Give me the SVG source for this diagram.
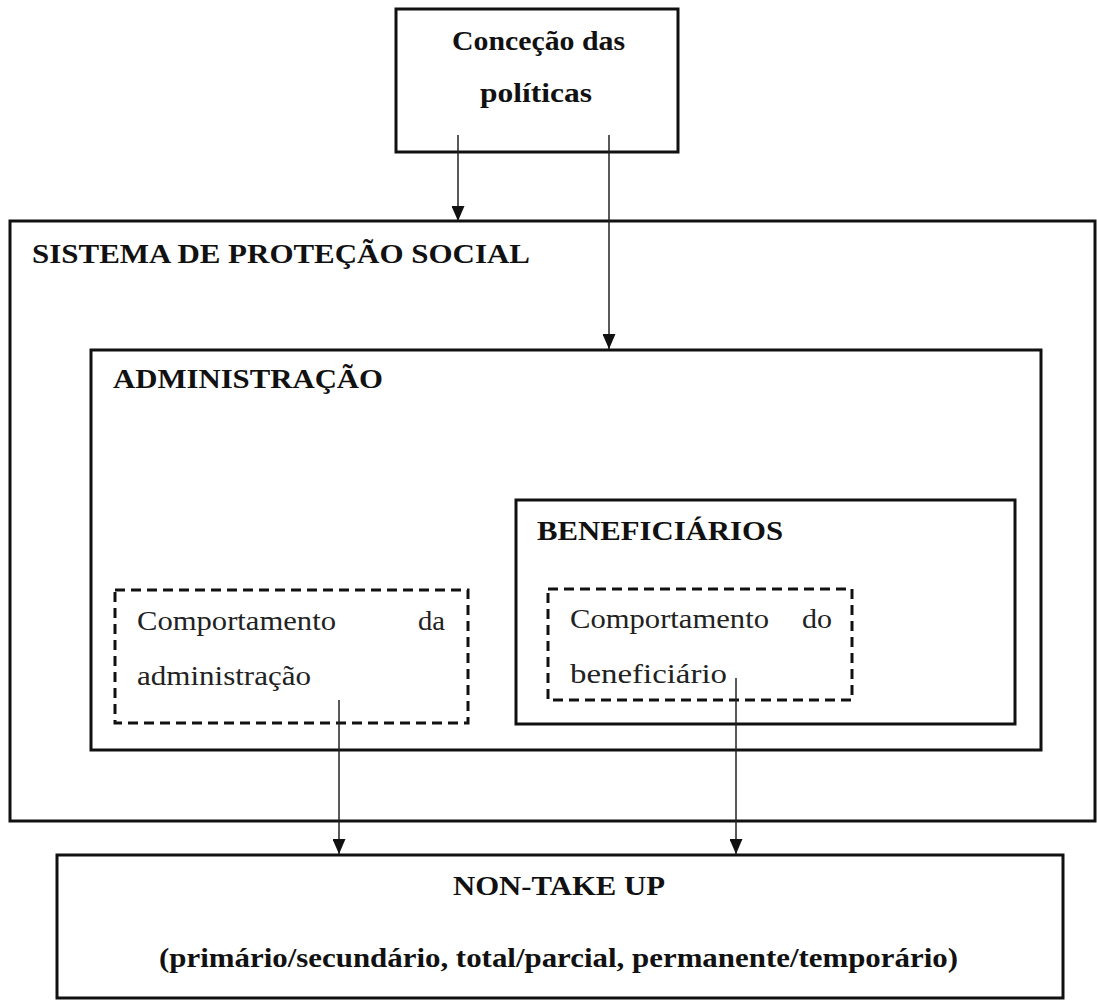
<svg xmlns="http://www.w3.org/2000/svg" width="1097" height="1000" viewBox="0 0 1097 1000">
<defs>
<style>
.box{fill:none;stroke:#111;stroke-width:3}
.dash{fill:none;stroke:#111;stroke-width:3;stroke-dasharray:10 6}
.conn{stroke:#222;stroke-width:1.5;fill:none}
.b{font-family:"Liberation Serif","Times New Roman",serif;font-weight:bold;font-size:27px;fill:#111}
.r{font-family:"Liberation Serif","Times New Roman",serif;font-size:27px;fill:#222}
</style>
<marker id="ah" markerUnits="userSpaceOnUse" markerWidth="15" markerHeight="13" viewBox="0 0 15 13" refX="15" refY="6.5" orient="auto">
<path d="M0,0 L15,6.5 L0,13 z" fill="#111"/>
</marker>
</defs>
<rect width="1097" height="1000" fill="#fff"/>
<g id="sistema">
<rect class="box" x="10" y="221" width="1085" height="600"/>
<text class="b" x="32" y="263" textLength="498" lengthAdjust="spacingAndGlyphs">SISTEMA DE PROTEÇÃO SOCIAL</text>
</g>
<g id="administracao">
<rect class="box" x="91" y="350" width="950" height="400"/>
<text class="b" x="113" y="388" textLength="270" lengthAdjust="spacingAndGlyphs">ADMINISTRAÇÃO</text>
</g>
<g id="beneficiarios">
<rect class="box" x="516" y="500" width="499" height="224"/>
<text class="b" x="537" y="540" textLength="246" lengthAdjust="spacingAndGlyphs">BENEFICIÁRIOS</text>
</g>
<g id="concecao">
<rect class="box" x="396" y="9" width="282" height="143"/>
<text class="b" x="452" y="50" textLength="173" lengthAdjust="spacingAndGlyphs">Conceção das</text>
<text class="b" x="480" y="102" textLength="112" lengthAdjust="spacingAndGlyphs">políticas</text>
</g>
<g id="comp-admin">
<rect class="dash" x="115" y="590" width="353" height="133"/>
<text class="r" x="137" y="630" textLength="199" lengthAdjust="spacingAndGlyphs">Comportamento</text>
<text class="r" x="418" y="630" textLength="27" lengthAdjust="spacingAndGlyphs">da</text>
<text class="r" x="137" y="685" textLength="174" lengthAdjust="spacingAndGlyphs">administração</text>
</g>
<g id="comp-benef">
<rect class="dash" x="548" y="589" width="304" height="111"/>
<text class="r" x="570" y="628" textLength="199" lengthAdjust="spacingAndGlyphs">Comportamento</text>
<text class="r" x="802" y="628" textLength="30" lengthAdjust="spacingAndGlyphs">do</text>
<text class="r" x="570" y="683" textLength="157" lengthAdjust="spacingAndGlyphs">beneficiário</text>
</g>
<g id="nontakeup">
<rect class="box" x="57" y="855" width="1006" height="143"/>
<text class="b" x="453" y="895" textLength="212" lengthAdjust="spacingAndGlyphs">NON-TAKE UP</text>
<text class="b" x="159" y="967" textLength="799" lengthAdjust="spacingAndGlyphs">(primário/secundário, total/parcial, permanente/temporário)</text>
</g>
<g id="connectors">
<line class="conn" x1="458" y1="135" x2="458" y2="221" marker-end="url(#ah)"/>
<line class="conn" x1="609" y1="135" x2="609" y2="349" marker-end="url(#ah)"/>
<line class="conn" x1="339" y1="700" x2="339" y2="854" marker-end="url(#ah)"/>
<line class="conn" x1="736" y1="678" x2="736" y2="854" marker-end="url(#ah)"/>
</g>
</svg>
